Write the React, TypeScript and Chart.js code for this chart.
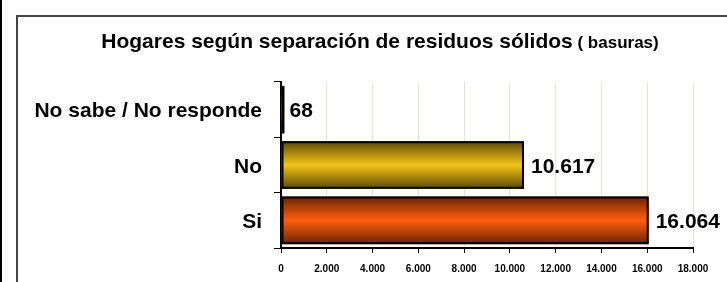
import React, { useEffect, useRef } from "react";
import { Chart, registerables } from "chart.js";

Chart.register(...registerables);

const categories = ["No sabe / No responde", "No", "Si"];
const values = [68, 10617, 16064];
const xTicks = [0, 2000, 4000, 6000, 8000, 10000, 12000, 14000, 16000, 18000];
const titleMain = "Hogares según separación de residuos sólidos";
const titleSub = " ( basuras)";

const centerColors = ["#F2C312", "#F5C516", "#FF5E0F"];
const edgeColors = ["#2a2200", "#5A4806", "#6A2204"];

const FONT = "'Liberation Sans', Arial, sans-serif";
const STRETCH = 1.0;

const fmt = (v: number) =>
  Math.round(v)
    .toString()
    .replace(/\B(?=(\d{3})+(?!\d))/g, ".");

const BAR_PCT = 0.86;

function stretchedText(ctx: any, text: string, x: number, y: number, align: "left" | "right") {
  const w = ctx.measureText(text).width * STRETCH;
  const left = align === "left" ? x : x - w;
  ctx.save();
  ctx.translate(left, y);
  ctx.scale(STRETCH, 1);
  ctx.textAlign = "left";
  ctx.fillText(text, 0, 0);
  ctx.restore();
  return w;
}

export default function App() {
  const ref = useRef<HTMLCanvasElement | null>(null);
  useEffect(() => {
    if (!ref.current) return;
    const textPlugin = {
      id: "customText",
      afterDraw(chart: any) {
        const ctx = chart.ctx;
        ctx.save();
        ctx.fillStyle = "#000";
        ctx.textBaseline = "alphabetic";
        // title
        const f1 = `bold 21px ${FONT}`;
        const f2 = `bold 17px ${FONT}`;
        ctx.font = f1;
        const w1 = ctx.measureText(titleMain).width * STRETCH;
        ctx.font = f2;
        const w2 = ctx.measureText(titleSub).width * STRETCH;
        const x0 = 380 - (w1 + w2) / 2;
        ctx.font = f1;
        stretchedText(ctx, titleMain, x0, 48, "left");
        ctx.font = f2;
        stretchedText(ctx, titleSub, x0 + w1, 48, "left");
        // category labels
        const ys = chart.scales.y;
        ctx.font = `bold 21px ${FONT}`;
        categories.forEach((c, i) => {
          const cy = ys.getPixelForValue(i);
          stretchedText(ctx, c, ys.right - 19, cy + 7.5, "right");
        });
        ctx.restore();
      },
      afterDatasetsDraw(chart: any) {
        const ctx = chart.ctx;
        const meta = chart.getDatasetMeta(0);
        ctx.save();
        ctx.strokeStyle = "#000";
        ctx.lineWidth = 2;
        meta.data.forEach((bar: any) => {
          const x0 = Math.min(bar.base, bar.x);
          const w = Math.abs(bar.x - bar.base);
          ctx.strokeRect(x0 + 1, bar.y - bar.height / 2 + 1, Math.max(w - 2, 1), bar.height - 2);
        });
        ctx.fillStyle = "#000";
        ctx.font = `bold 21px ${FONT}`;
        ctx.textBaseline = "alphabetic";
        meta.data.forEach((bar: any, i: number) => {
          stretchedText(ctx, fmt(values[i]), bar.x + 7, bar.y + 7.5, "left");
        });
        ctx.restore();
      },
    };
    const chart = new Chart(ref.current, {
      type: "bar",
      data: {
        labels: categories,
        datasets: [
          {
            data: values,
            backgroundColor: (c: any) => {
              const chartObj = c.chart;
              const ys = chartObj.scales?.y;
              const i = c.dataIndex ?? 0;
              if (!ys || ys.bottom === undefined || !isFinite(ys.bottom)) return centerColors[i];
              const band = (ys.bottom - ys.top) / categories.length;
              const cy = ys.getPixelForValue(i);
              const half = (band * BAR_PCT) / 2;
              const g = chartObj.ctx.createLinearGradient(0, cy - half, 0, cy + half);
              g.addColorStop(0, edgeColors[i]);
              g.addColorStop(0.5, centerColors[i]);
              g.addColorStop(1, edgeColors[i]);
              return g;
            },
            borderWidth: 0,
            barPercentage: BAR_PCT,
            categoryPercentage: 1,
          },
        ],
      },
      options: {
        indexAxis: "y",
        animation: false,
        responsive: false,
        maintainAspectRatio: false,
        devicePixelRatio: 1,
        layout: { padding: { top: 82, right: 34, left: 0, bottom: 0 } },
        plugins: {
          legend: { display: false },
          title: { display: false },
          tooltip: { enabled: false },
        },
        scales: {
          x: {
            min: 0,
            max: 18000,
            afterBuildTicks: (s: any) => {
              s.ticks = xTicks.map((v) => ({ value: v }));
            },
            afterFit: (s: any) => {
              s.height = 34;
            },
            ticks: {
              callback: (v: any) => fmt(Number(v)),
              font: { family: FONT, size: 10, weight: "bold" },
              color: "#000",
              padding: 10,
              maxRotation: 0,
              autoSkip: false,
            },
            grid: {
              color: "#E4E4D6",
              lineWidth: 1,
              tickColor: "#000",
              tickLength: 5,
              drawTicks: true,
            },
            border: { color: "#000", width: 2 },
          },
          y: {
            afterFit: (s: any) => {
              s.width = 281;
            },
            ticks: {
              display: false,
            },
            grid: {
              drawOnChartArea: false,
              tickColor: "#000",
              tickLength: 7,
              offset: true,
            },
            border: { color: "#000", width: 2 },
          },
        },
      },
      plugins: [textPlugin],
    } as any);
    return () => chart.destroy();
  }, []);

  return (
    <div style={{ position: "absolute", left: 0, top: 0, width: 727, height: 282, background: "#fff", overflow: "hidden" }}>
      <div style={{ position: "absolute", left: 0, top: 0, width: 2, height: 282, background: "#000" }} />
      <div
        style={{
          position: "absolute",
          left: 16,
          top: 15,
          width: 760,
          height: 300,
          borderTop: "2px solid #444",
          borderLeft: "2px solid #444",
        }}
      />
      <canvas ref={ref} width={727} height={282} style={{ position: "absolute", left: 0, top: 0, width: 727, height: 282 }} />
    </div>
  );
}
